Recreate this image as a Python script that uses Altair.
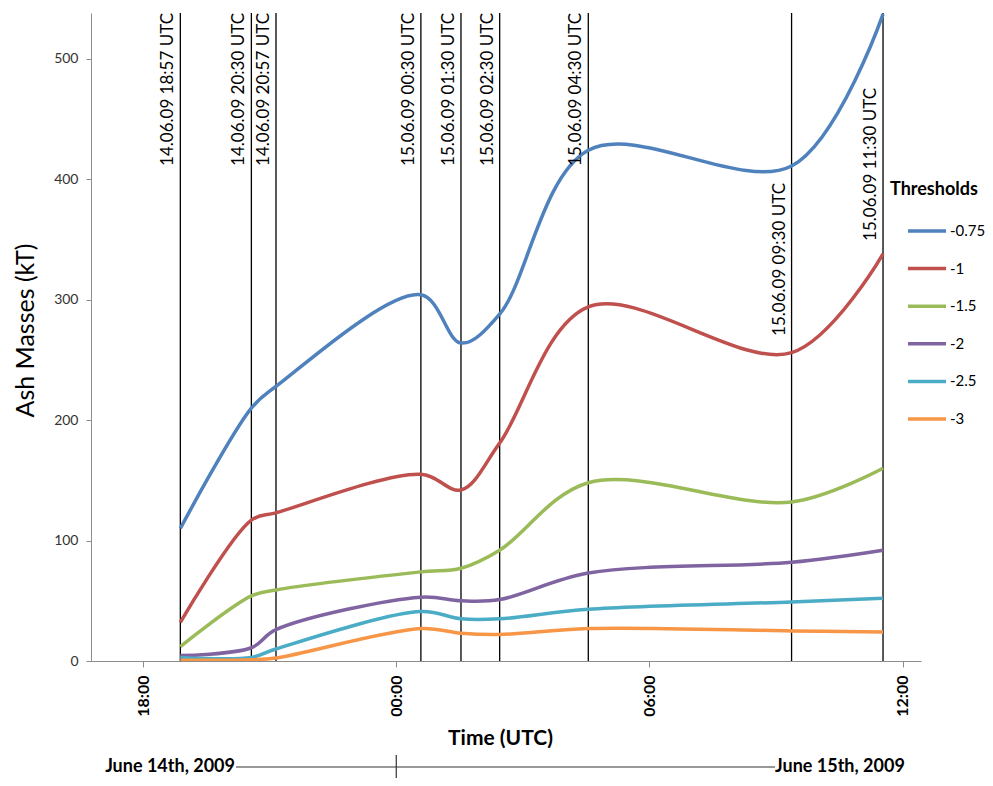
import altair as alt
import pandas as pd

# ---------------- data ----------------
# positions of the observation lines as read off the picture's time axis
times = ["2009-06-14T18:53:00Z", "2009-06-14T20:34:00Z", "2009-06-14T21:09:00Z",
         "2009-06-15T00:35:00Z", "2009-06-15T01:32:00Z", "2009-06-15T02:27:00Z",
         "2009-06-15T04:33:00Z", "2009-06-15T09:22:00Z", "2009-06-15T11:32:00Z"]
time_labels = ["14.06.09 18:57 UTC", "14.06.09 20:30 UTC", "14.06.09 20:57 UTC",
               "15.06.09 00:30 UTC", "15.06.09 01:30 UTC", "15.06.09 02:30 UTC",
               "15.06.09 04:30 UTC", "15.06.09 09:30 UTC", "15.06.09 11:30 UTC"]
thresholds = ["-0.75", "-1", "-1.5", "-2", "-2.5", "-3"]
mass_m075 = [110, 210, 228, 304, 264, 288, 424, 411, 537]
mass_m1 = [32, 117, 123, 155, 142, 181, 294, 256, 338]
mass_m15 = [12, 54, 59, 74, 77, 92, 148, 132, 160]
mass_m2 = [4.5, 11, 26, 53, 50, 51, 73, 82, 92]
mass_m25 = [3, 3, 10, 41, 35, 35, 43, 49, 52]
mass_m3 = [0.7, 1, 2.5, 27, 23, 22, 27, 25, 24]
series = [mass_m075, mass_m1, mass_m15, mass_m2, mass_m25, mass_m3]
date_labels = ["June 14th, 2009", "June 15th, 2009"]

# ---------------- styles / layout ----------------
colors = ["#4F81BD", "#C0504D", "#9BBB59", "#8064A2", "#4BACC6", "#F79646"]
W, H = 830, 648
label_drop_px = {"15.06.09 09:30 UTC": 170, "15.06.09 11:30 UTC": 75}
FONT = "Lato"

rows = []
for th, vals in zip(thresholds, series):
    for t, v in zip(times, vals):
        rows.append({"time": t, "mass": v, "threshold": th})
df = pd.DataFrame(rows)
events = pd.DataFrame({"time": times, "label": time_labels})

x_scale = alt.Scale(type="utc",
                    domain=[alt.DateTime(year=2009, month=6, date=14, hours=16, minutes=46, utc=True),
                            alt.DateTime(year=2009, month=6, date=15, hours=12, minutes=26, utc=True)])
y_scale = alt.Scale(domain=[0, 538], nice=False, zero=True)

x_ticks = [alt.DateTime(year=2009, month=6, date=14, hours=18, utc=True),
           alt.DateTime(year=2009, month=6, date=15, hours=0, utc=True),
           alt.DateTime(year=2009, month=6, date=15, hours=6, utc=True),
           alt.DateTime(year=2009, month=6, date=15, hours=12, utc=True)]

x_axis = alt.Axis(values=x_ticks, format="%H:%M", labelAngle=270, labelFont=FONT,
                  labelFontSize=16, labelFontWeight="bold", labelColor="black",
                  labelPadding=8, tickSize=6, tickColor="#8c8c8c", domainColor="#8c8c8c",
                  grid=False, title="Time (UTC)", titleFont=FONT, titleFontSize=21,
                  titleFontWeight="bold", titleColor="black", titleX=409, titleY=77,
                  titleBaseline="middle", titleAlign="center")
y_axis = alt.Axis(values=[0, 100, 200, 300, 400, 500], grid=False, domainColor="#8c8c8c",
                  tickColor="#8c8c8c", tickSize=5, labelFont=FONT, labelFontSize=14,
                  labelColor="#333333", labelPadding=8, title="Ash Masses (kT)",
                  titleFont=FONT, titleFontSize=25, titleFontWeight="normal",
                  titleColor="black", titleAngle=270, titleBaseline="middle",
                  titleAlign="center", titleX=-66, titleY=317)

legend = alt.Legend(title="Thresholds", orient="none", legendX=799, legendY=168,
                    symbolType="stroke", symbolSize=1450, symbolStrokeWidth=3.5,
                    clipHeight=30, rowPadding=7.6, titleFont=FONT, titleFontSize=18,
                    titleFontWeight="bold", titleColor="black", labelFont=FONT,
                    labelFontSize=15, labelColor="black", labelOffset=2,
                    symbolOffset=16, titlePadding=17, padding=0)

lines = alt.Chart(df).mark_line(interpolate="catmull-rom", strokeWidth=3.5, clip=True).encode(
    x=alt.X("time:T", scale=x_scale, axis=x_axis),
    y=alt.Y("mass:Q", scale=y_scale, axis=y_axis),
    color=alt.Color("threshold:N", scale=alt.Scale(domain=thresholds, range=colors),
                    sort=thresholds, legend=legend),
)

rules = alt.Chart(events).mark_rule(color="black", strokeWidth=1.3).encode(x="time:T")

top_labels = [l for l in time_labels if l not in label_drop_px]
text_layers = [
    alt.Chart(events).transform_filter(
        alt.FieldOneOfPredicate(field="label", oneOf=top_labels)
    ).mark_text(angle=270, align="right", baseline="bottom", dy=-3, font=FONT,
                fontSize=17, color="black").encode(x="time:T", y=alt.value(0), text="label:N")
]
for lab, drop in label_drop_px.items():
    text_layers.append(
        alt.Chart(events).transform_filter(alt.datum.label == lab)
        .mark_text(angle=270, align="right", baseline="bottom", dy=-3, font=FONT,
                   fontSize=17, color="black")
        .encode(x="time:T", y=alt.value(drop), text="label:N")
    )

dates_df = pd.DataFrame({"d": date_labels})
date_left = alt.Chart(dates_df).transform_filter(alt.datum.d == date_labels[0]).mark_text(
    align="right", baseline="middle", font=FONT, fontSize=18, fontWeight="bold", color="black"
).encode(x=alt.value(144), y=alt.value(754), text="d:N")
date_right = alt.Chart(dates_df).transform_filter(alt.datum.d == date_labels[1]).mark_text(
    align="left", baseline="middle", font=FONT, fontSize=18, fontWeight="bold", color="black"
).encode(x=alt.value(684), y=alt.value(754), text="d:N")
date_line = alt.Chart(dates_df).transform_filter(alt.datum.d == date_labels[0]).mark_rule(
    color="#333333", strokeWidth=1.2
).encode(x=alt.value(145), x2=alt.value(684), y=alt.value(754))
midnight_tick = alt.Chart(dates_df).transform_filter(alt.datum.d == date_labels[0]).mark_rule(
    color="#333333", strokeWidth=1.2
).encode(x=alt.X(datum=alt.DateTime(year=2009, month=6, date=15, hours=0, utc=True), type="temporal"),
         y=alt.value(742), y2=alt.value(765))

chart = alt.layer(rules, lines, *text_layers, date_line, midnight_tick, date_left, date_right).properties(
    width=W, height=H,
    autosize=alt.AutoSizeParams(type="none"),
    padding={"left": 83, "top": 5, "right": 64, "bottom": 117},
    background="white",
).configure_view(stroke=None)

chart.save("out.html", embed_options={"renderer": "svg", "actions": False})
